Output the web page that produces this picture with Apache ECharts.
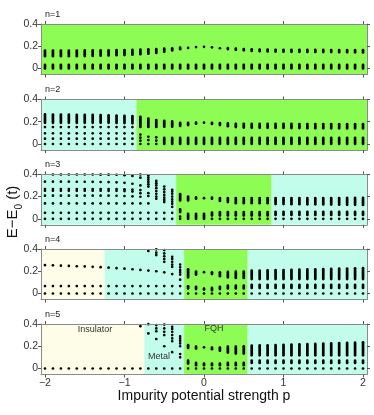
<!DOCTYPE html>
<html>
<head>
<meta charset="utf-8">
<script src="https://cdn.jsdelivr.net/npm/echarts@6/dist/echarts.min.js"></script>
<style>
  html, body { margin: 0; padding: 0; background: #fff; }
  #chart { width: 374px; height: 415px; }
</style>
</head>
<body>
<div id="chart"></div>
<script>
// impurity strength p of each column
const pValues = [-2.0, -1.9, -1.8, -1.7, -1.6, -1.5, -1.4, -1.3, -1.2, -1.1, -1.0,
  -0.9, -0.8, -0.7, -0.6, -0.5, -0.4, -0.3, -0.2, -0.1, 0.0, 0.1, 0.2, 0.3, 0.4,
  0.5, 0.6, 0.7, 0.8, 0.9, 1.0, 1.1, 1.2, 1.3, 1.4, 1.5, 1.6, 1.7, 1.8, 1.9, 2.0];

const xTicks = [-2, -1, 0, 1, 2];
const yTicks = [0, 0.2, 0.4];
const panelNames = ['n=1', 'n=2', 'n=3', 'n=4', 'n=5'];

// energies E-E0 per column: a number = one level, [lo, hi] = a dense band of levels
const n1Levels = [
  [[0, 0.033], [0.11, 0.161]], [[0, 0.033], [0.11, 0.161]], [[0, 0.033], [0.11, 0.161]],
  [[0, 0.033], [0.11, 0.161]], [[0, 0.033], [0.111, 0.161]], [[0, 0.033], [0.112, 0.162]],
  [[0, 0.033], [0.113, 0.162]], [[0, 0.033], [0.115, 0.163]], [[0, 0.033], [0.117, 0.164]],
  [[0, 0.033], [0.119, 0.165]], [[0, 0.033], [0.121, 0.166]], [[0, 0.033], [0.124, 0.167]],
  [[0, 0.033], [0.128, 0.169]], [[0, 0.033], [0.133, 0.171]], [[0, 0.033], [0.14, 0.174]],
  [[0, 0.033], [0.15, 0.178]], [[0, 0.033], [0.162, 0.182]], [[0, 0.033], [0.174, 0.187]],
  [[0, 0.033], [0.185, 0.19]], [[0, 0.033], 0.193], [[0, 0.033], 0.195],
  [[0, 0.033], 0.19], [[0, 0.033], [0.182, 0.187]], [[0, 0.033], [0.175, 0.183]],
  [[0, 0.033], [0.168, 0.178]], [[0, 0.033], [0.163, 0.175]], [[0, 0.033], [0.158, 0.172]],
  [[0, 0.033], [0.155, 0.17]], [[0, 0.033], [0.153, 0.169]], [[0, 0.033], [0.152, 0.168]],
  [[0, 0.033], [0.151, 0.168]], [[0, 0.033], [0.15, 0.168]], [[0, 0.033], [0.15, 0.168]],
  [[0, 0.033], [0.149, 0.167]], [[0, 0.033], [0.149, 0.167]], [[0, 0.033], [0.148, 0.167]],
  [[0, 0.033], [0.148, 0.166]], [[0, 0.033], [0.147, 0.166]], [[0, 0.033], [0.146, 0.166]],
  [[0, 0.033], [0.145, 0.165]], [[0, 0.033], [0.144, 0.165]]
];

const n2Levels = [
  [0, 0.048, 0.096, 0.152, [0.19, 0.266]], [0, 0.048, 0.096, 0.152, [0.19, 0.265]],
  [0, 0.048, 0.096, 0.152, [0.19, 0.265]], [0, 0.048, 0.096, 0.152, [0.19, 0.264]],
  [0, 0.048, 0.096, 0.152, [0.19, 0.263]], [0, 0.048, 0.096, 0.152, [0.19, 0.262]],
  [0, 0.048, 0.096, 0.152, [0.19, 0.261]], [0, 0.048, 0.096, 0.152, [0.19, 0.26]],
  [0, 0.048, 0.096, 0.152, [0.19, 0.258]], [0, 0.048, 0.096, 0.152, [0.189, 0.256]],
  [0, 0.048, 0.096, 0.152, [0.188, 0.254]], [0, 0.048, 0.096, 0.152, [0.186, 0.25]],
  [0, 0.03, 0.057, 0.085, [0.153, 0.244]], [0, 0.035, 0.065, [0.153, 0.229]],
  [0, 0.03, 0.06, [0.153, 0.215]], [[0, 0.055], [0.155, 0.208]],
  [[0, 0.055], [0.155, 0.203]], [[0, 0.055], [0.162, 0.19]],
  [[0, 0.055], [0.17, 0.19]], [[0, 0.055], [0.182, 0.192]],
  [[0, 0.055], 0.192], [[0, 0.055], [0.18, 0.19]],
  [[0, 0.055], [0.17, 0.188]], [[0, 0.055], [0.16, 0.185]],
  [[0, 0.055], [0.152, 0.182]], [[0, 0.055], [0.148, 0.181]],
  [[0, 0.055], [0.145, 0.18]], [[0, 0.055], [0.145, 0.18]],
  [[0, 0.055], [0.145, 0.18]], [[0, 0.055], [0.144, 0.18]],
  [[0, 0.055], [0.144, 0.18]], [[0, 0.055], [0.143, 0.18]],
  [[0, 0.055], [0.143, 0.179]], [[0, 0.055], [0.142, 0.179]],
  [[0, 0.055], [0.142, 0.179]], [[0, 0.055], [0.142, 0.179]],
  [[0, 0.055], [0.141, 0.179]], [[0, 0.055], [0.141, 0.178]],
  [[0, 0.055], [0.14, 0.178]], [[0, 0.055], [0.14, 0.178]],
  [[0, 0.055], [0.14, 0.178]]
];

const n3Levels = [
  [0, 0.054, 0.138, 0.208, 0.252, 0.268, 0.334],
  [0, 0.054, 0.138, 0.208, 0.252, 0.268, 0.334, 0.398],
  [0, 0.054, 0.138, 0.208, 0.252, 0.268, 0.334, 0.398],
  [0, 0.054, 0.138, 0.208, 0.252, 0.268, 0.334, 0.398],
  [0, 0.054, 0.138, 0.208, 0.252, 0.268, 0.333, 0.398],
  [0, 0.054, 0.138, 0.208, 0.252, 0.268, 0.333, 0.398],
  [0, 0.054, 0.138, 0.208, 0.252, 0.268, 0.332, 0.398],
  [0, 0.054, 0.138, 0.208, 0.252, 0.268, 0.331, 0.397],
  [0, 0.054, 0.138, 0.208, 0.251, 0.267, 0.33, 0.397],
  [0, 0.054, 0.138, 0.207, 0.251, 0.267, 0.328, 0.396],
  [0, 0.054, 0.138, 0.205, 0.249, 0.265, 0.323, 0.392],
  [0, 0.054, 0.138, 0.202, 0.245, 0.262, 0.315, 0.385],
  [0, 0.054, 0.138, 0.198, 0.23, 0.258, 0.3, 0.37, 0.398],
  [0, 0.054, 0.138, 0.205, 0.23, 0.29, 0.31, 0.33, 0.35, 0.37, 0.39],
  [0, 0.054, 0.18, 0.2, 0.225, 0.25, 0.275, 0.3, 0.32, 0.34],
  [0, 0.054, 0.15, 0.17, 0.19, 0.215, 0.24, 0.265, 0.29],
  [0, 0.054, 0.108, 0.135, 0.155, 0.175, 0.2, 0.225, 0.245, 0.26],
  [0, 0.02, [0.06, 0.084], [0.165, 0.223]],
  [[0, 0.045], [0.165, 0.2]],
  [[0, 0.045], [0.18, 0.192]],
  [[0, 0.045], [0.185, 0.19]],
  [0, [0.03, 0.055], [0.18, 0.19]],
  [0, [0.03, 0.06], [0.16, 0.186]],
  [0, [0.03, 0.06], [0.15, 0.186]],
  [0, [0.03, 0.06], [0.14, 0.186]], [0, [0.03, 0.06], [0.14, 0.186]],
  [0, [0.03, 0.06], [0.14, 0.186]], [0, [0.03, 0.06], [0.14, 0.186]],
  [0, [0.03, 0.06], [0.14, 0.186]],
  [0, [0.035, 0.063], [0.132, 0.186]], [0, [0.035, 0.063], [0.132, 0.186]],
  [0, [0.035, 0.063], [0.131, 0.186]], [0, [0.035, 0.063], [0.131, 0.186]],
  [0, [0.035, 0.063], [0.13, 0.187]], [0, [0.035, 0.063], [0.13, 0.187]],
  [0, [0.035, 0.063], [0.129, 0.187]], [0, [0.035, 0.063], [0.128, 0.187]],
  [0, [0.035, 0.063], [0.127, 0.187]], [0, [0.035, 0.063], [0.126, 0.188]],
  [0, [0.035, 0.063], [0.126, 0.188]], [0, [0.035, 0.063], [0.125, 0.188]]
];

const n4Levels = [
  [0, 0.067, 0.255], [0, 0.067, 0.253], [0, 0.067, 0.25], [0, 0.067, 0.248],
  [0, 0.067, 0.245], [0, 0.067, 0.243], [0, 0.067, 0.24], [0, 0.067, 0.237],
  [0, 0.067, 0.232], [0, 0.067, 0.228], [0, 0.067, 0.223], [0, 0.067, 0.218],
  [0, 0.067, 0.212],
  [0, 0.067, 0.206, 0.382],
  [0, 0.067, 0.2, 0.345, 0.367, 0.397],
  [0, 0.067, 0.19, 0.285, 0.31, 0.335, 0.36, 0.39],
  [0, 0.067, 0.175, 0.24, 0.26, 0.285, 0.31, 0.33],
  [0, 0.067, 0.124, 0.17, 0.19, 0.21, 0.235, 0.26],
  [0, [0.045, 0.065], [0.145, 0.218]],
  [0, [0.04, 0.06], [0.17, 0.197]],
  [0, [0.035, 0.045], 0.192],
  [0, [0.03, 0.05], [0.175, 0.19]],
  [0, [0.04, 0.06], [0.155, 0.19]],
  [0, [0.045, 0.07], [0.145, 0.195]],
  [0, [0.045, 0.07], [0.14, 0.196]],
  [0, [0.045, 0.07], [0.14, 0.197]],
  [0, [0.05, 0.078], [0.13, 0.205]], [0, [0.05, 0.078], [0.13, 0.206]],
  [0, [0.05, 0.078], [0.13, 0.208]], [0, [0.05, 0.078], [0.13, 0.21]],
  [0, [0.05, 0.078], [0.13, 0.211]], [0, [0.05, 0.078], [0.13, 0.213]],
  [0, [0.05, 0.078], [0.13, 0.214]], [0, [0.05, 0.078], [0.13, 0.216]],
  [0, [0.05, 0.078], [0.13, 0.218]], [0, [0.05, 0.078], [0.13, 0.219]],
  [0, [0.05, 0.078], [0.13, 0.221]], [0, [0.05, 0.078], [0.13, 0.223]],
  [0, [0.05, 0.078], [0.13, 0.224]], [0, [0.05, 0.078], [0.13, 0.226]],
  [0, [0.05, 0.078], [0.13, 0.228]]
];

const n5Levels = [
  [0], [0], [0], [0], [0], [0], [0], [0], [0], [0], [0], [0],
  [0, 0.38],
  [0, 0.315, 0.398],
  [0, 0.265, 0.335, 0.36, 0.39],
  [0, 0.2, 0.3, 0.33, 0.36, 0.395],
  [0, 0.147, 0.245, 0.27, 0.3, 0.33, 0.355, 0.375],
  [0, 0.1, 0.13, 0.2, 0.225, 0.25, 0.27, 0.29],
  [0, [0.045, 0.07], [0.185, 0.21]],
  [0, [0.03, 0.05], [0.18, 0.196]],
  [0, [0.03, 0.045], 0.19],
  [0, [0.03, 0.045], [0.174, 0.188]],
  [0, [0.03, 0.045], [0.16, 0.188]],
  [0, [0.03, 0.05], [0.143, 0.196]],
  [0, [0.03, 0.05], [0.134, 0.196]],
  [0, [0.03, 0.05], [0.134, 0.2]],
  [0, [0.05, 0.07], [0.118, 0.205]], [0, [0.05, 0.07], [0.118, 0.207]],
  [0, [0.05, 0.07], [0.118, 0.209]], [0, [0.05, 0.07], [0.118, 0.211]],
  [0, [0.05, 0.07], [0.118, 0.213]], [0, [0.05, 0.07], [0.118, 0.215]],
  [0, [0.05, 0.07], [0.118, 0.217]], [0, [0.05, 0.07], [0.118, 0.219]],
  [0, [0.05, 0.07], [0.118, 0.221]], [0, [0.05, 0.07], [0.118, 0.223]],
  [0, [0.05, 0.07], [0.118, 0.225]], [0, [0.05, 0.07], [0.118, 0.228]],
  [0, [0.05, 0.07], [0.118, 0.23]], [0, [0.05, 0.07], [0.118, 0.232]],
  [0, [0.05, 0.07], [0.118, 0.235]]
];

// phase regions [from p, to p, phase]
const n1Phases = [[-2.05, 2.05, 'FQH']];
const n2Phases = [[-2.05, -0.85, 'Metal'], [-0.85, 2.05, 'FQH']];
const n3Phases = [[-2.05, -0.35, 'Metal'], [-0.35, 0.85, 'FQH'], [0.85, 2.05, 'Metal']];
const n4Phases = [[-2.05, -1.25, 'Insulator'], [-1.25, -0.25, 'Metal'], [-0.25, 0.55, 'FQH'], [0.55, 2.05, 'Metal']];
const n5Phases = [[-2.05, -0.75, 'Insulator'], [-0.75, -0.25, 'Metal'], [-0.25, 0.55, 'FQH'], [0.55, 2.05, 'Metal']];

const allLevels = [n1Levels, n2Levels, n3Levels, n4Levels, n5Levels];
const allPhases = [n1Phases, n2Phases, n3Phases, n4Phases, n5Phases];

const phaseColors = { FQH: '#8dfc55', Metal: '#c2fdeb', Insulator: '#fefde7' };
const FONT = 'Liberation Sans, Arial, sans-serif';
const tops = [24, 99.5, 174.3, 249, 324];
const H = 50.5;

function toItems(levels) {
  const out = [];
  levels.forEach(function (col, i) {
    col.forEach(function (l) {
      if (Array.isArray(l)) out.push([pValues[i], l[0], l[1]]);
      else out.push([pValues[i], l, l]);
    });
  });
  return out;
}

function renderLevel(params, api) {
  const a = api.coord([api.value(0), api.value(1)]);
  const b = api.coord([api.value(0), api.value(2)]);
  if (Math.abs(a[1] - b[1]) < 0.6) {
    return { type: 'circle', shape: { cx: a[0], cy: a[1], r: 1.35 }, style: { fill: '#000' } };
  }
  return {
    type: 'line',
    shape: { x1: a[0], y1: a[1], x2: b[0], y2: b[1] },
    style: { stroke: '#000', lineWidth: 2.7, lineCap: 'round' }
  };
}

const fmtX = v => (v < 0 ? '\u2212' + (-v) : String(v));
const fmtY = v => (v === 0 ? '0' : v.toFixed(1));

const grids = [], xAxes = [], yAxes = [], series = [], graphics = [];
const axisLine = { show: true, onZero: false, lineStyle: { color: '#8a8a8a', width: 1 } };
const tickStyle = { color: '#555', width: 1 };

for (let i = 0; i < 5; i++) {
  grids.push({ left: 41, right: 7, top: tops[i], height: H });
  xAxes.push({
    type: 'value', gridIndex: i, min: -2.05, max: 2.05, position: 'bottom', z: 4,
    axisLine: axisLine, splitLine: { show: false },
    axisTick: { show: true, length: 3, customValues: xTicks, lineStyle: tickStyle },
    axisLabel: {
      show: i === 4, customValues: xTicks, formatter: fmtX, margin: 3,
      fontSize: 10.5, color: '#333', fontFamily: FONT
    }
  });
  xAxes.push({
    type: 'value', gridIndex: i, min: -2.05, max: 2.05, position: 'top', z: 4,
    axisLine: axisLine, splitLine: { show: false },
    axisTick: { show: true, length: 3, customValues: xTicks, lineStyle: tickStyle },
    axisLabel: { show: false }
  });
  yAxes.push({
    type: 'value', gridIndex: i, min: -0.054, max: 0.4, position: 'left', z: 4,
    axisLine: axisLine, splitLine: { show: false },
    axisTick: { show: true, length: 3, customValues: yTicks, lineStyle: tickStyle },
    axisLabel: {
      customValues: yTicks, formatter: fmtY, margin: 3,
      fontSize: 10.5, color: '#333', fontFamily: FONT
    }
  });
  yAxes.push({
    type: 'value', gridIndex: i, min: -0.054, max: 0.4, position: 'right', z: 4,
    axisLine: axisLine, splitLine: { show: false },
    axisTick: { show: true, length: 3, customValues: yTicks, lineStyle: tickStyle },
    axisLabel: { show: false }
  });

  series.push({
    type: 'scatter', xAxisIndex: 2 * i, yAxisIndex: 2 * i, data: [], z: 1,
    markArea: {
      silent: true,
      label: { show: false },
      data: allPhases[i].map(ph => [
        { xAxis: ph[0], itemStyle: { color: phaseColors[ph[2]], opacity: 1, borderWidth: 0 } },
        { xAxis: ph[1] }
      ])
    }
  });
  series.push({
    type: 'custom', xAxisIndex: 2 * i, yAxisIndex: 2 * i, z: 3, clip: false,
    encode: { x: 0, y: [1, 2] },
    renderItem: renderLevel,
    data: toItems(allLevels[i])
  });

  graphics.push({
    type: 'text', left: 45, top: tops[i] - 14, z: 100,
    style: { text: panelNames[i], font: '9px ' + FONT, fill: '#222' }
  });
}

graphics.push(
  { type: 'text', x: 95, y: 330, z: 100, style: { text: 'Insulator', font: '9px ' + FONT, fill: '#333', align: 'center', verticalAlign: 'middle' } },
  { type: 'text', x: 159, y: 357, z: 100, style: { text: 'Metal', font: '9px ' + FONT, fill: '#333', align: 'center', verticalAlign: 'middle' } },
  { type: 'text', x: 214, y: 329, z: 100, style: { text: 'FQH', font: '9px ' + FONT, fill: '#333', align: 'center', verticalAlign: 'middle' } },
  { type: 'text', x: 204, y: 396, z: 100, style: { text: 'Impurity potential strength p', font: '14px ' + FONT, fill: '#111', align: 'center', verticalAlign: 'middle' } },
  {
    type: 'text', x: 13, y: 212, z: 100, rotation: Math.PI / 2,
    style: {
      text: '{a|E\u2212E}{s|0}{a| (t)}', align: 'center', verticalAlign: 'middle', fill: '#111',
      rich: {
        a: { fontSize: 15, fontFamily: FONT, lineHeight: 22, verticalAlign: 'middle' },
        s: { fontSize: 10, fontFamily: FONT, lineHeight: 22, verticalAlign: 'bottom' }
      }
    }
  }
);

const myChart = echarts.init(document.getElementById('chart'));
myChart.setOption({
  animation: false,
  grid: grids,
  xAxis: xAxes,
  yAxis: yAxes,
  series: series,
  graphic: graphics
});
</script>
</body>
</html>
